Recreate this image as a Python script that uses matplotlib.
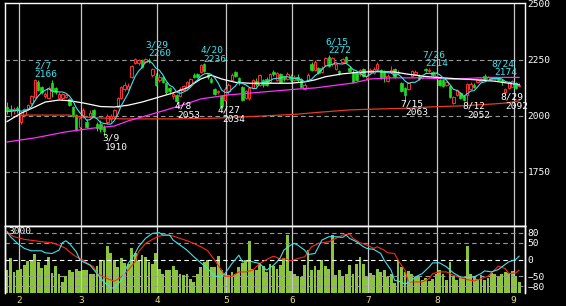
import matplotlib
matplotlib.use("Agg")
import matplotlib.pyplot as plt
import numpy as np
import pandas as pd

# trading days shown per month (Jan tail .. Sep head)
days_per_month = [4, 18, 22, 20, 19, 22, 20, 22, 2]
month_labels = ["1", "2", "3", "4", "5", "6", "7", "8", "9"]

opens = [2042, 2030, 2020, 2035, 1975, 2005, 2030, 2058, 2085, 2150, 2128, 2090, 2080, 2145, 2125, 2080,
         2078, 2085, 2075, 2040, 2004, 1950, 1995, 1975, 1998, 2025, 1965, 1962, 1950, 1975, 1985, 1998,
         2040, 2082, 2120, 2120, 2175, 2238, 2235, 2250, 2240, 2250, 2182, 2180, 2160, 2172, 2145, 2125,
         2090, 2095, 2090, 2118, 2130, 2140, 2182, 2185, 2195, 2234, 2185, 2165, 2120, 2105, 2088, 2072,
         2110, 2160, 2196, 2170, 2130, 2080, 2078, 2125, 2158, 2138, 2160, 2165, 2152, 2196, 2160, 2185,
         2175, 2165, 2180, 2162, 2175, 2165, 2120, 2160, 2232, 2205, 2214, 2195, 2228, 2262, 2230, 2210,
         2200, 2240, 2262, 2215, 2196, 2195, 2185, 2210, 2168, 2195, 2190, 2210, 2205, 2200, 2158, 2196,
         2210, 2190, 2147, 2125, 2120, 2180, 2188, 2178, 2170, 2208, 2200, 2196, 2180, 2160, 2160, 2140,
         2134, 2058, 2095, 2103, 2090, 2094, 2120, 2140, 2150, 2155, 2180, 2162, 2165, 2166, 2170, 2160,
         2105, 2125, 2130, 2145, 2135]
highs = [2062, 2050, 2040, 2045, 2010, 2035, 2055, 2095, 2166, 2160, 2135, 2108, 2135, 2160, 2130, 2105,
         2102, 2100, 2080, 2045, 2010, 2000, 2035, 1985, 2025, 2030, 1975, 1980, 1960, 2010, 2010, 2030,
         2085, 2135, 2150, 2145, 2228, 2258, 2252, 2255, 2258, 2260, 2215, 2190, 2185, 2180, 2150, 2130,
         2105, 2100, 2128, 2140, 2158, 2170, 2190, 2192, 2232, 2236, 2190, 2172, 2125, 2118, 2092, 2128,
         2145, 2190, 2200, 2175, 2135, 2118, 2130, 2165, 2168, 2188, 2165, 2172, 2192, 2205, 2195, 2190,
         2180, 2195, 2185, 2182, 2185, 2170, 2145, 2190, 2240, 2248, 2220, 2222, 2265, 2272, 2265, 2238,
         2205, 2260, 2268, 2222, 2205, 2200, 2210, 2215, 2185, 2212, 2218, 2240, 2210, 2205, 2185, 2225,
         2215, 2205, 2150, 2130, 2152, 2205, 2205, 2185, 2185, 2214, 2212, 2200, 2195, 2165, 2165, 2155,
         2138, 2090, 2120, 2108, 2095, 2148, 2150, 2145, 2165, 2170, 2185, 2180, 2174, 2174, 2174, 2165,
         2125, 2158, 2162, 2150, 2148]
lows = [2010, 2000, 2010, 2015, 1965, 2000, 2025, 2050, 2080, 2110, 2098, 2080, 2075, 2085, 2100, 2075,
        2072, 2080, 2045, 1995, 1935, 1940, 1990, 1945, 1990, 2000, 1935, 1930, 1910, 1965, 1975, 1990,
        2035, 2075, 2110, 2115, 2170, 2230, 2228, 2215, 2235, 2238, 2175, 2135, 2150, 2145, 2100, 2100,
        2075, 2053, 2085, 2110, 2125, 2135, 2168, 2170, 2190, 2195, 2165, 2145, 2095, 2098, 2034, 2065,
        2100, 2155, 2172, 2140, 2068, 2075, 2070, 2120, 2135, 2132, 2130, 2132, 2148, 2180, 2155, 2145,
        2158, 2160, 2150, 2155, 2152, 2125, 2115, 2155, 2200, 2200, 2188, 2190, 2225, 2220, 2222, 2205,
        2183, 2235, 2235, 2195, 2145, 2155, 2180, 2175, 2162, 2190, 2185, 2205, 2165, 2150, 2150, 2190,
        2170, 2185, 2105, 2063, 2115, 2175, 2182, 2160, 2165, 2198, 2196, 2178, 2175, 2135, 2130, 2135,
        2080, 2055, 2090, 2075, 2065, 2052, 2115, 2125, 2145, 2150, 2155, 2158, 2160, 2160, 2155, 2140,
        2092, 2120, 2128, 2120, 2130]
closes = [2020, 2022, 2032, 2028, 2005, 2030, 2048, 2090, 2162, 2118, 2105, 2098, 2125, 2110, 2105, 2098,
          2098, 2095, 2050, 2000, 1940, 1990, 2025, 1950, 2012, 2005, 1945, 1940, 1932, 2000, 2000, 2025,
          2078, 2128, 2140, 2135, 2222, 2255, 2248, 2220, 2255, 2245, 2208, 2140, 2175, 2150, 2108, 2110,
          2100, 2068, 2120, 2135, 2150, 2165, 2172, 2175, 2228, 2200, 2175, 2150, 2100, 2110, 2045, 2122,
          2140, 2183, 2180, 2148, 2072, 2112, 2125, 2160, 2142, 2182, 2140, 2138, 2185, 2185, 2190, 2150,
          2165, 2185, 2160, 2175, 2160, 2130, 2140, 2183, 2205, 2240, 2192, 2215, 2258, 2225, 2260, 2230,
          2190, 2255, 2240, 2200, 2150, 2160, 2205, 2180, 2180, 2205, 2210, 2232, 2170, 2175, 2178, 2205,
          2175, 2198, 2112, 2094, 2147, 2200, 2198, 2165, 2180, 2203, 2205, 2183, 2190, 2140, 2135, 2150,
          2085, 2085, 2115, 2080, 2072, 2142, 2143, 2130, 2160, 2165, 2160, 2175, 2170, 2170, 2160, 2150,
          2120, 2150, 2155, 2125, 2140]
volume = [1020, 1545, 945, 1020, 1095, 1245, 1440, 1470, 1740, 1395, 1140, 1245, 1590, 900, 1200, 870,
          495, 750, 1050, 945, 1095, 990, 1020, 1050, 870, 870, 1200, 1500, 1500, 2100, 1770, 1470,
          1170, 1545, 1350, 1290, 1995, 1800, 1440, 1695, 1590, 1395, 1320, 1770, 1095, 870, 1050, 1020,
          1200, 1050, 870, 795, 870, 645, 495, 870, 1170, 1395, 1470, 1170, 1170, 1650, 1020, 870,
          795, 945, 870, 1170, 1350, 1470, 2340, 1095, 1020, 1320, 1200, 945, 1320, 1200, 1095,
          1245, 1545, 2595, 990, 870, 750, 720, 1245, 1920, 1020, 1200, 1050, 1470, 1200, 1095, 2595,
          795, 1050, 750, 870, 1245, 870, 1320, 1620, 1320, 720, 900, 795, 1095, 945, 1050, 720,
          870, 450, 1500, 1170, 945, 990, 840, 720, 750, 570, 690, 540, 645, 870, 1050, 870,
          570, 1395, 750, 600, 690, 645, 2100, 840, 720, 645, 795, 600, 690, 900, 870, 750,
          870, 945, 900, 990, 750, 495]

# moving averages (day index, price)
ma25_day = [0, 4, 8, 11, 15, 18, 22, 27, 31, 35, 39, 43, 48, 52, 56, 59, 62, 66, 70, 76, 82, 86, 89,
            92, 97, 101, 106, 112, 116, 121, 126, 131, 136, 141, 145, 148]
ma25_val = [1975, 2012, 2040, 2062, 2071, 2068, 2058, 2042, 2040, 2048, 2062, 2080, 2103, 2125, 2165,
            2182, 2165, 2150, 2146, 2146, 2146, 2152, 2161, 2175, 2188, 2194, 2198, 2196, 2186, 2176,
            2170, 2165, 2161, 2155, 2146, 2140]
ma75_day = [0, 8, 17, 25, 31, 35, 38, 44, 50, 56, 60, 64, 74, 84, 89, 100, 105, 111, 119, 129, 139, 148]
ma75_val = [1884, 1902, 1929, 1946, 1955, 1978, 1991, 2018, 2045, 2076, 2085, 2094, 2107, 2120, 2125,
            2147, 2165, 2170, 2170, 2164, 2172, 2172]
ma200_day = [4, 18, 21, 27, 33, 50, 60, 74, 84, 89, 99, 107, 117, 122, 131, 141, 145, 148]
ma200_val = [2004, 2004, 1996, 1991, 1987, 1987, 1990, 2000, 2008, 2015, 2027, 2031, 2035, 2040, 2045,
             2054, 2059, 2068]

# oscillators in lower panel (day index, value)
osc1_day = [0, 1, 3, 5, 7, 10, 11, 13, 15, 16, 17, 18, 20, 21, 22, 24, 26, 28, 30, 31, 33, 35, 37, 38,
            40, 42, 44, 45, 47, 48, 50, 52, 54, 56, 58, 60, 62, 63, 65, 67, 68, 70, 71, 73, 75, 77, 78,
            79, 80, 82, 83, 84, 86, 87, 89, 90, 91, 93, 95, 97, 98, 99, 101, 103, 104, 106, 108, 109,
            111, 112, 114, 115, 117, 118, 120, 122, 123, 125, 127, 129, 131, 133, 135, 137, 138, 140,
            142, 143, 145, 147, 148]
osc1_val = [83, 68, 48, 33, 26, 26, 20, 18, 28, 50, 56, 48, 23, 0, -7, -17, -42, -67, -85, -85, -62,
            -12, 18, 38, 63, 78, 80, 73, 73, 58, 43, 28, 8, -10, -27, -50, -50, -42, -12, 13, -7, -5,
            -7, -12, -32, -17, -7, 6, 28, 43, 48, 43, 28, 15, 18, 38, 58, 68, 68, 66, 73, 63, 53, 38,
            33, 30, 18, -2, -32, -62, -67, -74, -62, -52, -42, -22, -10, -10, -22, -40, -52, -54, -52,
            -42, -34, -37, -30, -22, -7, 0, 10]
osc2_day = [0, 2, 5, 8, 10, 13, 15, 17, 18, 20, 22, 23, 25, 26, 29, 31, 33, 35, 37, 38, 40, 42, 44,
            46, 48, 50, 52, 54, 56, 58, 60, 62, 63, 65, 67, 69, 71, 73, 75, 77, 78, 79, 80, 82, 84, 86,
            88, 90, 91, 93, 95, 97, 99, 100, 102, 104, 106, 107, 109, 110, 112, 113, 115, 116, 117, 120,
            122, 123, 125, 127, 129, 131, 133, 135, 137, 139, 140, 142, 144, 145, 147, 148]
osc2_val = [81, 68, 60, 56, 53, 50, 43, 33, 23, 8, -2, -10, -22, -42, -57, -65, -52, -32, -7, 23, 48,
            60, 70, 73, 70, 63, 56, 48, 38, 26, -2, -32, -50, -50, -37, -37, -32, -12, 0, 10, 6, 0, 3,
            -4, 3, 8, 38, 48, 50, 53, 63, 73, 76, 63, 50, 43, 33, 38, 28, 20, 18, -2, -32, -67, -67,
            -67, -57, -42, -37, -37, -47, -54, -60, -64, -57, -50, -40, -20, -27, -42, -40, -32]

# marked highs / lows
high_marks = [("2/7", 8), ("3/29", 41), ("4/20", 57), ("6/15", 93), ("7/26", 121), ("8/24", 141)]
low_marks = [("3/9", 28), ("4/8", 49), ("4/27", 62), ("7/15", 115), ("8/12", 133), ("8/29", 144)]

RED = "#ff3030"
GREEN = "#22d822"
CYAN = "#3ce4f0"
FONT = "DejaVu Sans Mono"
FS = 6.8

o = np.array(opens)
h = np.array(highs)
l = np.array(lows)
c = np.array(closes)
x = np.arange(len(c))
n = len(c)
ma5 = pd.Series(c).rolling(5, min_periods=1).mean()
month_start = np.cumsum([0] + days_per_month[:-1])

fig = plt.figure(figsize=(5.66, 3.06), dpi=100, facecolor="black")
ax = fig.add_axes([5 / 566, 1 - 226 / 306, 520 / 566, 223 / 306], facecolor="black")
axv = fig.add_axes([5 / 566, 1 - 293 / 306, 520 / 566, 67 / 306], facecolor="black")
axo = axv.twinx()

xlim = (-0.6, n + 0.7)

# ---- price panel
ax.set_xlim(*xlim)
ax.set_ylim(1509, 2504)
for lvl in [1750, 2000, 2250]:
    ax.axhline(lvl, color="#9a9a9a", lw=0.8, ls=(0, (4, 3)), zorder=1)
for ms in month_start[1:]:
    ax.axvline(ms - 0.6, color="#c8c8c8", lw=0.9, zorder=1)

up = c >= o
body = np.maximum(np.abs(c - o), 2)
ax.vlines(x[up], l[up], h[up], colors=RED, lw=0.75, zorder=2)
ax.vlines(x[~up], l[~up], h[~up], colors=GREEN, lw=0.75, zorder=2)
ax.bar(x[up], body[up], bottom=np.minimum(o, c)[up], width=0.7, facecolor="black",
       edgecolor=RED, linewidth=0.7, zorder=3)
ax.bar(x[~up], body[~up], bottom=np.minimum(o, c)[~up], width=0.7, facecolor=GREEN,
       edgecolor=GREEN, linewidth=0.5, zorder=3)

ax.plot(ma200_day, ma200_val, color="#e83a20", lw=0.9, zorder=4)
ax.plot(ma75_day, ma75_val, color="#ff30ff", lw=0.9, zorder=4)
ax.plot(ma25_day, ma25_val, color="white", lw=0.9, zorder=4)
ax.plot(x, ma5, color=CYAN, lw=0.8, zorder=5)

for lab, i in high_marks:
    ax.annotate(str(h[i]), (i, h[i]), xytext=(11, 4), textcoords="offset pixels",
                ha="center", va="center", color=CYAN, fontsize=FS, family=FONT, zorder=6)
    ax.annotate(lab, (i, h[i]), xytext=(8, 13), textcoords="offset pixels",
                ha="center", va="center", color=CYAN, fontsize=FS, family=FONT, zorder=6)
for lab, i in low_marks:
    ax.annotate(lab, (i, l[i]), xytext=(7, -2), textcoords="offset pixels",
                ha="center", va="center", color="white", fontsize=FS, family=FONT, zorder=6)
    ax.annotate(str(l[i]), (i, l[i]), xytext=(12, -11), textcoords="offset pixels",
                ha="center", va="center", color="white", fontsize=FS, family=FONT, zorder=6)

ax.set_xticks([])
ax.yaxis.tick_right()
ax.set_yticks([1750, 2000, 2250, 2500])
ax.tick_params(axis="y", length=0, pad=2, labelcolor="white", labelsize=FS)
for t in ax.get_yticklabels():
    t.set_family(FONT)
for s in ax.spines.values():
    s.set_color("white")
    s.set_linewidth(1.0)

# ---- volume / oscillator panel
axv.set_xlim(*xlim)
axv.set_ylim(0, 3000)
axv.bar(x, volume, width=0.82, color="#8cc43e", zorder=2)
for ms in month_start[1:]:
    axv.axvline(ms - 0.6, color="#c8c8c8", lw=0.9, zorder=1)
axv.set_yticks([])
axv.set_xticks(month_start[1:] - 0.6)
axv.set_xticklabels(month_labels[1:])
axv.tick_params(axis="x", length=0, pad=2, labelcolor="#e8dc8a", labelsize=FS)
for t in axv.get_xticklabels():
    t.set_family(FONT)
axv.text(0.006, 0.985, "3000", transform=axv.transAxes, color="white", fontsize=FS,
         family=FONT, ha="left", va="top", zorder=6)

axo.set_xlim(*xlim)
axo.set_ylim(-100, 100)
for lvl in [80, 50, -50, -80]:
    axo.axhline(lvl, color="#9a9a9a", lw=0.8, ls=(0, (4, 3)), zorder=1)
axo.axhline(0, color="white", lw=0.8, ls=(0, (4, 3)), zorder=1)
axo.plot(osc2_day, osc2_val, color="#ff2a10", lw=0.8, zorder=4)
axo.plot(osc1_day, osc1_val, color=CYAN, lw=0.8, zorder=5)
axo.set_yticks([80, 50, 0, -50, -80])
axo.tick_params(axis="y", length=0, pad=2, labelcolor="white", labelsize=FS)
for t in axo.get_yticklabels():
    t.set_family(FONT)

for a in (axv, axo):
    for k, s in a.spines.items():
        s.set_color("white")
        s.set_linewidth(1.0)
    a.spines["bottom"].set_visible(False)

fig.savefig("out.png", dpi=100, facecolor="black")
